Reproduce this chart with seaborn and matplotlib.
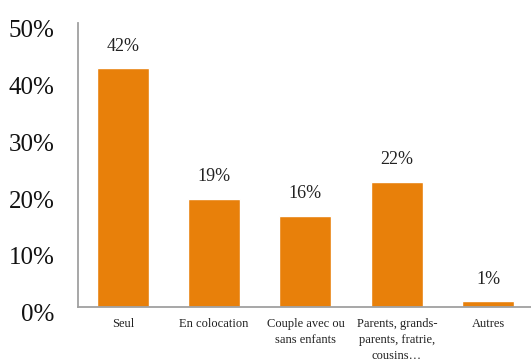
import matplotlib
matplotlib.use("Agg")
import matplotlib.pyplot as plt
import matplotlib.transforms as mtransforms
import seaborn as sns
import pandas as pd

# données
categories = ["Seul", "En colocation", "Couple avec ou\nsans enfants",
              "Parents, grands-\nparents, fratrie,\ncousins…", "Autres"]
valeurs = [42, 19, 16, 22, 1]
yticks = [0, 10, 20, 30, 40, 50]

df = pd.DataFrame({"cat": categories, "val": valeurs})

sns.set_style("white")
plt.rcParams['font.family'] = ['Liberation Serif', 'DejaVu Serif']

fig = plt.figure(figsize=(5.31, 3.6), dpi=100)
ax = fig.add_axes([0.147, 0.147, 0.853, 0.789])

sns.barplot(data=df, x="cat", y="val", color="#E8800A", saturation=1,
            width=0.57, ax=ax)

for c in ax.containers:
    ax.bar_label(c, labels=[f"{v}%" for v in valeurs], padding=10,
                 fontsize=13, color="#222222")

ax.set_ylim(0, 50)
ax.set_xlim(-0.49, 4.47)
ax.set_yticks(yticks)
ax.set_yticklabels([f"{t}%" for t in yticks], fontsize=18, color="#111111")
ax.tick_params(axis="y", length=0, pad=17)
ax.tick_params(axis="x", length=0, pad=8, labelsize=9, colors="#222222")
for lab in ax.get_xticklabels():
    lab.set_linespacing(1.45)
# les étiquettes de l'axe y sont un peu plus basses que les graduations
decal = mtransforms.ScaledTranslation(0, -4 / 72, fig.dpi_scale_trans)
for lab in ax.get_yticklabels():
    lab.set_transform(lab.get_transform() + decal)
ax.set_xlabel("")
ax.set_ylabel("")

for s in ["top", "right"]:
    ax.spines[s].set_visible(False)
for s in ["left", "bottom"]:
    ax.spines[s].set_color("#A0A0A0")
    ax.spines[s].set_linewidth(1.3)

fig.savefig("out.png", dpi=100)
